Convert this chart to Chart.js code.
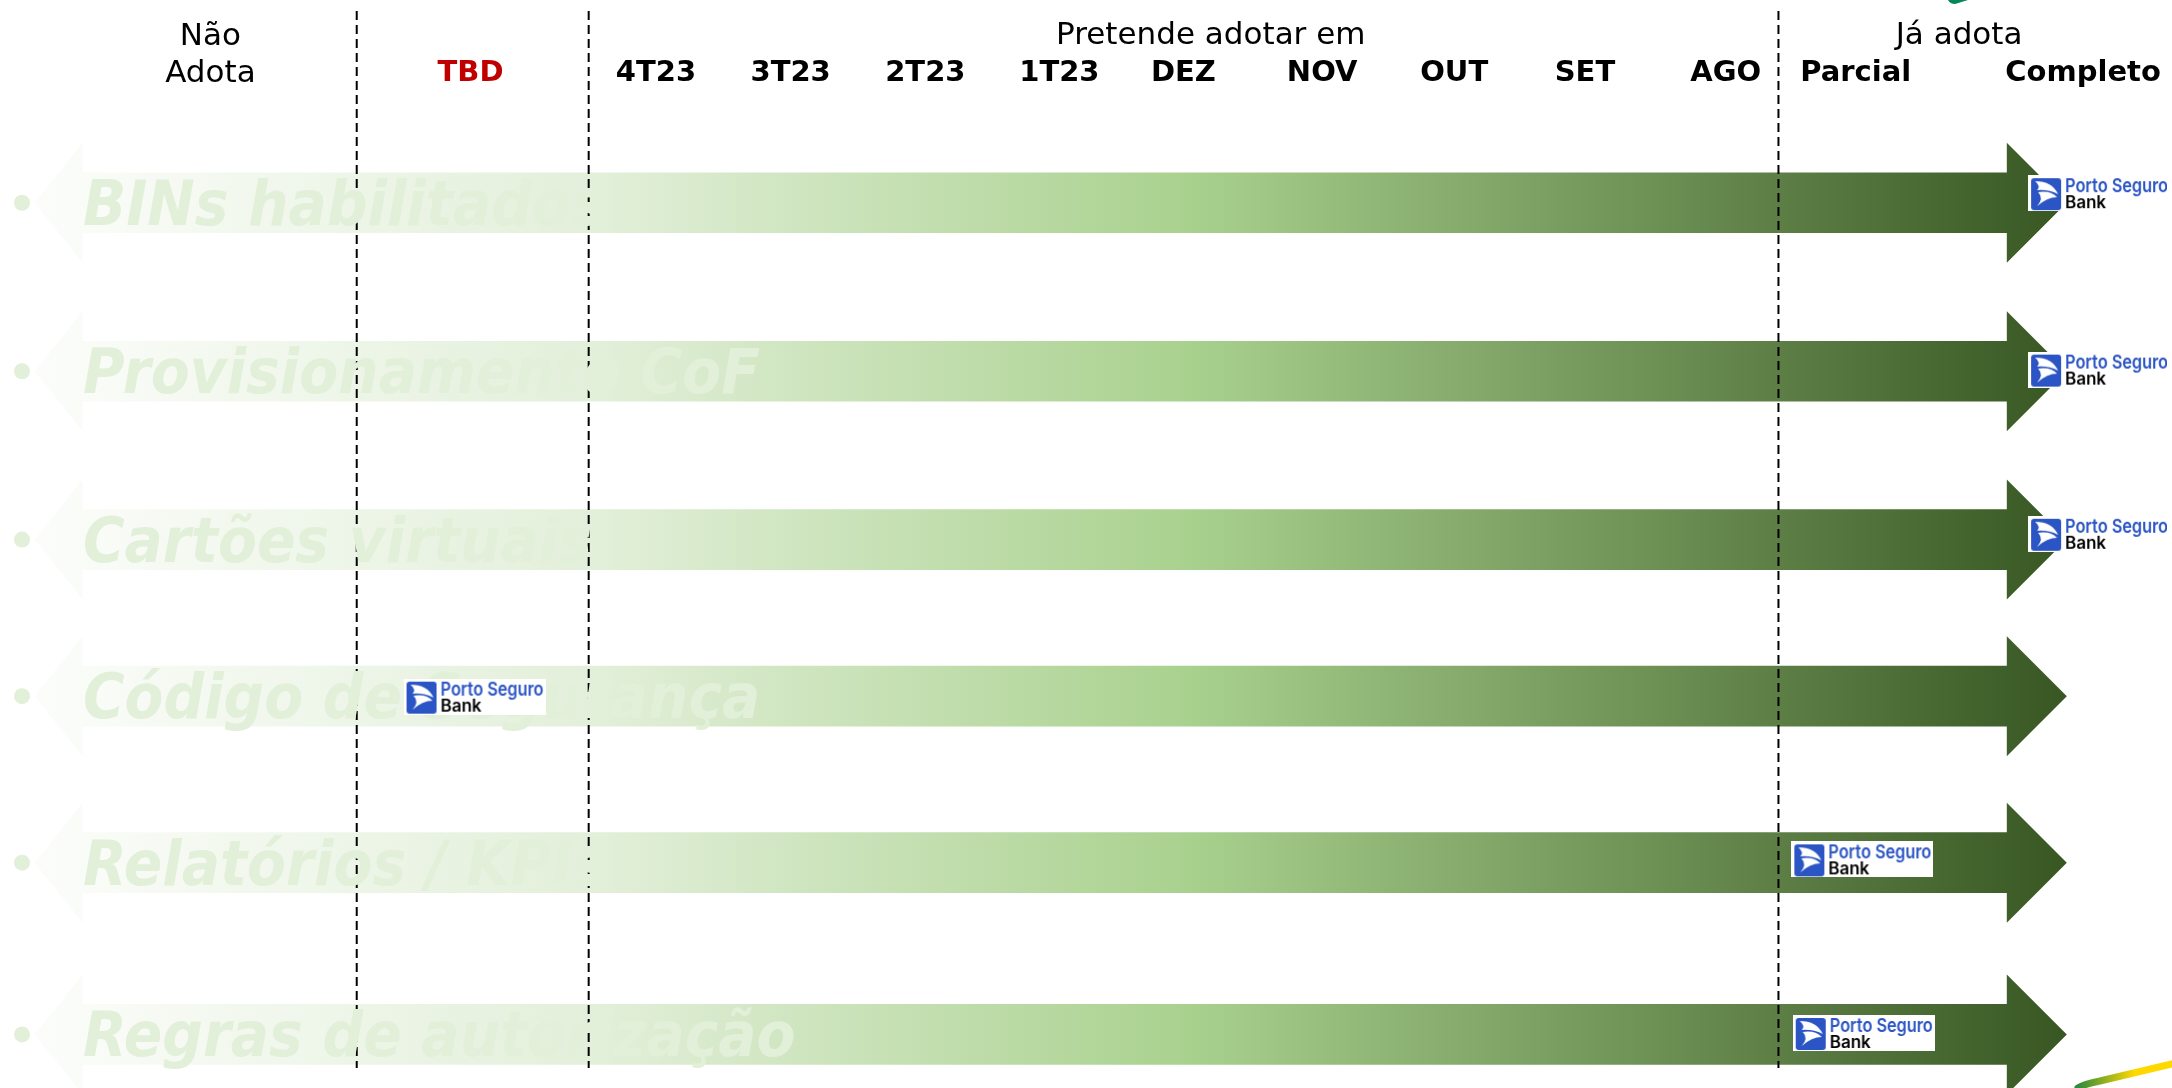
<!DOCTYPE html>
<html>
<head>
<meta charset="utf-8">
<title>Adoção</title>
<script src="https://cdn.jsdelivr.net/npm/chart.js@4"></script>
<style>
    html, body { margin: 0; padding: 0; background: #fff; }
    #wrap { width: 2172px; height: 1088px; position: relative; overflow: hidden; }
</style>
</head>
<body>
<div id="wrap"><canvas id="chart" width="2172" height="1088"></canvas></div>
<script>
// columns along the adoption axis, value = stage
const columnLabels = [['Não', 'Adota'], 'TBD', '4T23', '3T23', '2T23', '1T23', 'DEZ', 'NOV', 'OUT', 'SET', 'AGO', 'Parcial', 'Completo'];
const columnStages = [1.54, 3.49, 4.88, 5.89, 6.90, 7.905, 8.835, 9.875, 10.865, 11.845, 12.90, 13.875, 15.58];
const groupLabels = ['Pretende adotar em', 'Já adota'];
const groupStages = [9.04, 14.65];
const dividerStages = [2.637, 4.376, 13.296];

// one arrow per feature
const features = ['BINs habilitados', 'Provisionamento CoF', 'Cartões virtuais', 'Código de Segurança', 'Relatórios / KPIs', 'Regras de autorização'];
const featureRows = [1.008, 2.028, 3.047, 3.995, 5.003, 6.043];
const arrowFrom = [0.582, 0.582, 0.582, 0.582, 0.582, 0.582];
const arrowTo = [15.008, 15.008, 15.008, 15.008, 15.008, 15.008];

// where the bank sits on each arrow
const bankStages = [15.70, 15.70, 15.70, 3.52, 13.925, 13.935];
const bankRows = [0.95, 2.018, 3.012, 3.998, 4.983, 6.034];

function bankLogo() {
    const c = document.createElement('canvas');
    c.width = 142;
    c.height = 36;
    const g = c.getContext('2d');
    g.fillStyle = '#fff';
    g.fillRect(0, 0, 142, 36);
    g.fillStyle = '#2b55c4';
    g.beginPath();
    g.roundRect(3, 3, 30, 32, 3);
    g.fill();
    g.fillStyle = '#fff';
    g.beginPath();
    g.moveTo(7, 6);
    g.quadraticCurveTo(24, 6, 30, 19);
    g.quadraticCurveTo(20, 14, 9, 15);
    g.quadraticCurveTo(13, 11, 7, 6);
    g.fill();
    g.beginPath();
    g.moveTo(10, 17);
    g.quadraticCurveTo(22, 15, 29, 22);
    g.quadraticCurveTo(19, 22, 9, 31);
    g.quadraticCurveTo(16, 23, 10, 17);
    g.fill();
    g.textBaseline = 'alphabetic';
    g.fillStyle = '#2b55c4';
    g.font = '600 19px "Inter"';
    g.fillText('Porto Seguro', 37, 17, 103);
    g.fillStyle = '#000';
    g.font = '600 17px "Inter"';
    g.fillText('Bank', 37, 33);
    return c;
}

const arrowFill = (ctx) => {
    const x = ctx.chart.scales.x;
    if (!ctx.chart.chartArea || !x) return '#a9d18e';
    const g = ctx.chart.ctx.createLinearGradient(x.getPixelForValue(0.2), 0, x.getPixelForValue(15.43), 0);
    g.addColorStop(0, '#fcfdfb');
    g.addColorStop(0.281, '#e2efd9');
    g.addColorStop(0.57, '#a9d18e');
    g.addColorStop(1, '#385723');
    return g;
};

// heads, dashed dividers, faded captions: everything between the arrows and the logos
const overlay = {
    id: 'overlay',
    afterDatasetDraw(chart, args) {
        if (args.index !== 0) return;
        const { ctx } = chart;
        const x = chart.scales.x;
        ctx.save();
        ctx.fillStyle = arrowFill({ chart });
        args.meta.data.forEach((bar) => {
            const left = Math.min(bar.x, bar.base);
            const right = Math.max(bar.x, bar.base);
            ctx.beginPath();
            ctx.moveTo(right, bar.y - 60);
            ctx.lineTo(right + 60, bar.y);
            ctx.lineTo(right, bar.y + 60);
            ctx.closePath();
            ctx.moveTo(left, bar.y - 60);
            ctx.lineTo(left - 48, bar.y);
            ctx.lineTo(left, bar.y + 60);
            ctx.closePath();
            ctx.fill();
        });

        ctx.strokeStyle = '#000';
        ctx.lineWidth = 2;
        ctx.setLineDash([9, 5]);
        dividerStages.forEach((s) => {
            ctx.beginPath();
            ctx.moveTo(x.getPixelForValue(s), 11);
            ctx.lineTo(x.getPixelForValue(s), 1068);
            ctx.stroke();
        });
        ctx.setLineDash([]);

        ctx.fillStyle = '#e2efd9';
        ctx.textBaseline = 'alphabetic';
        ctx.textAlign = 'left';
        args.meta.data.forEach((bar, i) => {
            ctx.beginPath();
            ctx.arc(22, bar.y, 8, 0, Math.PI * 2);
            ctx.fill();
            // the captions are narrower than DejaVu, so squeeze them sideways
            ctx.save();
            ctx.translate(83, bar.y + 22);
            ctx.scale(0.9, 1);
            ctx.font = 'italic bold 63px "DejaVu Sans"';
            ctx.fillText(features[i], 0, 0);
            ctx.restore();
        });
        ctx.restore();
    },
    afterDraw(chart) {
        const { ctx } = chart;
        const x = chart.scales.x;
        ctx.save();
        ctx.fillStyle = '#000';
        ctx.font = '31px "DejaVu Sans"';
        ctx.textAlign = 'center';
        ctx.textBaseline = 'middle';
        groupLabels.forEach((t, i) => ctx.fillText(t, x.getPixelForValue(groupStages[i]), 36));

        // slide decoration cut off by the crop
        const sw = ctx.createLinearGradient(2078, 0, 2172, 0);
        sw.addColorStop(0, '#2e8b3c');
        sw.addColorStop(0.6, '#ffd800');
        ctx.strokeStyle = sw;
        ctx.lineWidth = 7;
        ctx.lineCap = 'round';
        ctx.beginPath();
        ctx.moveTo(2078, 1088);
        ctx.quadraticCurveTo(2084, 1084, 2100, 1081);
        ctx.lineTo(2176, 1063);
        ctx.stroke();
        ctx.fillStyle = '#00875a';
        ctx.beginPath();
        ctx.moveTo(1948, 0);
        ctx.lineTo(1968, 0);
        ctx.lineTo(1955, 4);
        ctx.quadraticCurveTo(1950, 4, 1948, 0);
        ctx.fill();
        ctx.restore();
    }
};

new Chart(document.getElementById('chart'), {
    type: 'bar',
    data: {
        datasets: [
            {
                type: 'bar',
                label: 'Adoção',
                data: features.map((f, i) => ({ x: [arrowFrom[i], arrowTo[i]], y: featureRows[i] })),
                backgroundColor: arrowFill,
                barThickness: 60,
                borderWidth: 0,
                order: 2,
            },
            {
                type: 'scatter',
                label: 'Porto Seguro Bank',
                data: features.map((f, i) => ({ x: bankStages[i], y: bankRows[i] })),
                pointStyle: bankLogo(),
                order: 1,
            },
        ],
    },
    plugins: [overlay],
    options: {
        indexAxis: 'y',
        responsive: false,
        animation: false,
        layout: { padding: 0 },
        plugins: { legend: { display: false }, tooltip: { enabled: false } },
        scales: {
            x: {
                type: 'linear',
                position: 'top',
                min: 0,
                max: 16.209,
                grid: { display: false, drawTicks: false },
                border: { display: false },
                afterFit: (scale) => { scale.height = 100; },
                afterBuildTicks: (scale) => { scale.ticks = columnStages.map((v) => ({ value: v })); },
                ticks: {
                    autoSkip: false,
                    maxRotation: 0,
                    padding: 8,
                    callback: (value, index) => columnLabels[index],
                    color: (ctx) => (ctx.index === 1 ? '#c00000' : '#000'),
                    font: (ctx) => ({
                        family: '"DejaVu Sans"',
                        size: ctx.index === 0 ? 31 : 29,
                        lineHeight: ctx.index === 0 ? 1.19 : 1.27,
                        weight: ctx.index === 0 ? 'normal' : 'bold',
                    }),
                },
            },
            y: {
                type: 'linear',
                reverse: true,
                display: false,
                offset: false,
                min: 0.386,
                max: 6.337,
            },
        },
    },
});
</script>
</body>
</html>
